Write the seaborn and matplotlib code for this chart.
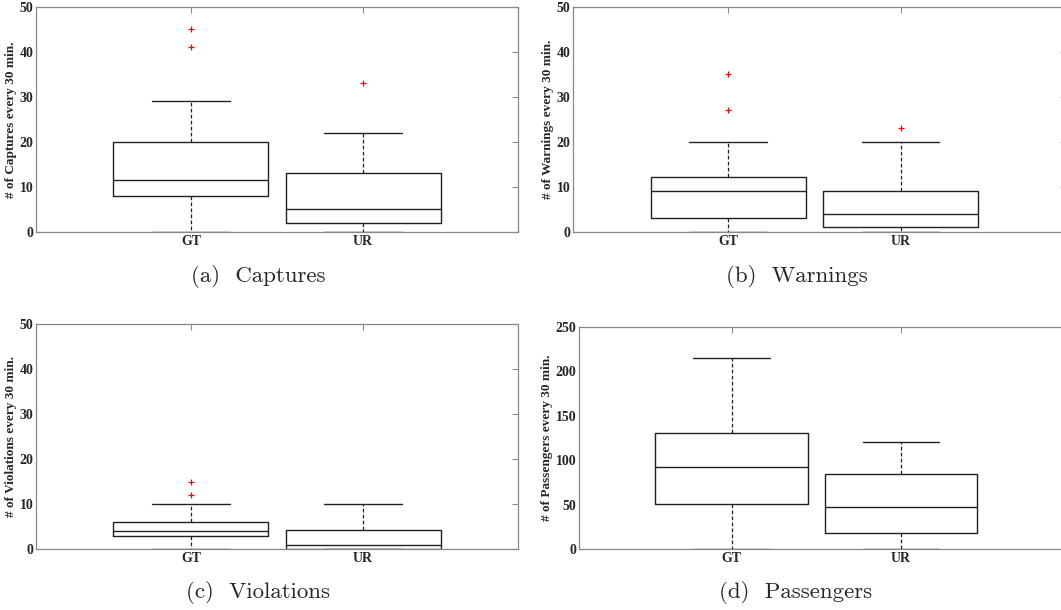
import numpy as np
import matplotlib
matplotlib.use("Agg")
import matplotlib.pyplot as plt
import seaborn as sns

sns.set_style("white")
plt.rcParams['font.family'] = ['Liberation Serif', 'DejaVu Serif']

groups = ["GT", "UR"]

# box stats: lower whisker, q1, median, q3, upper whisker
captures_stats = [[0, 8, 11.5, 20, 29], [0, 2, 5, 13, 22]]
captures_fliers = [[41, 45], [33]]

warnings_stats = [[0, 3, 9, 12.3, 20], [0, 1, 4, 9, 20]]
warnings_fliers = [[27, 35], [23]]

violations_stats = [[0, 2.8, 4, 6, 10], [0, 0, 1, 4.3, 10]]
violations_fliers = [[12, 15], []]

passengers_stats = [[0, 51, 92, 131, 215.5], [0, 18, 47, 84, 121]]
passengers_fliers = [[], []]

panels = [
    ("Captures", "(a)  Captures", captures_stats, captures_fliers, 50),
    ("Warnings", "(b)  Warnings", warnings_stats, warnings_fliers, 50),
    ("Violations", "(c)  Violations", violations_stats, violations_fliers, 50),
    ("Passengers", "(d)  Passengers", passengers_stats, passengers_fliers, 250),
]

# axes rectangles in figure fractions (left, bottom, width, height)
W, H = 1061, 610
rects = [
    (36 / W, 1 - 232 / H, 482 / W, 225 / H),
    (573 / W, 1 - 232 / H, 493 / W, 225 / H),
    (36 / W, 1 - 549 / H, 482 / W, 225 / H),
    (579 / W, 1 - 549 / H, 490 / W, 222 / H),
]
xlims = [(0.1, 2.9), (0.1, 2.96), (0.1, 2.9), (0.1, 2.99)]
caption_pos = [(258 / W, 1 - 277 / H), (797 / W, 1 - 277 / H),
               (258 / W, 1 - 593 / H), (796 / W, 1 - 593 / H)]

fig = plt.figure(figsize=(W / 100, H / 100), dpi=100)

for i, (name, caption, stats, fliers, ymax) in enumerate(panels):
    ax = fig.add_axes(rects[i])
    bxp_stats = []
    for g, s, f in zip(groups, stats, fliers):
        bxp_stats.append(dict(label=g, whislo=s[0], q1=s[1], med=s[2],
                              q3=s[3], whishi=s[4], fliers=f))
    ax.bxp(bxp_stats, positions=[1, 2], widths=0.9, capwidths=0.45,
           showfliers=True, patch_artist=False,
           boxprops=dict(color="#222222", linewidth=1.0),
           medianprops=dict(color="#222222", linewidth=1.0),
           whiskerprops=dict(color="#222222", linewidth=0.9, linestyle=(0, (3, 1.8))),
           capprops=dict(color="#222222", linewidth=1.0),
           flierprops=dict(marker="+", markeredgecolor="red", markersize=4,
                           markeredgewidth=0.9, linestyle="none"))
    ax.set_xlim(*xlims[i])
    ax.set_ylim(0, ymax)
    ax.set_yticks(np.linspace(0, ymax, 6))
    ax.set_xticks([1, 2])
    ax.set_xticklabels(groups)
    ax.set_ylabel(f"# of {name} every 30 min.", fontsize=9.5, fontweight="bold",
                  labelpad=2)
    ax.tick_params(direction="in", length=4, width=0.8, color="#888888",
                   top=True, right=True, labelsize=10, pad=2)
    for lab in ax.get_xticklabels() + ax.get_yticklabels():
        lab.set_fontweight("bold")
    for sp in ax.spines.values():
        sp.set_color("#888888")
        sp.set_linewidth(0.9)
    fig.text(caption_pos[i][0], caption_pos[i][1], caption, family="cmr10",
             fontsize=16.5, ha="center", va="center")

fig.savefig("out.png", dpi=100)
